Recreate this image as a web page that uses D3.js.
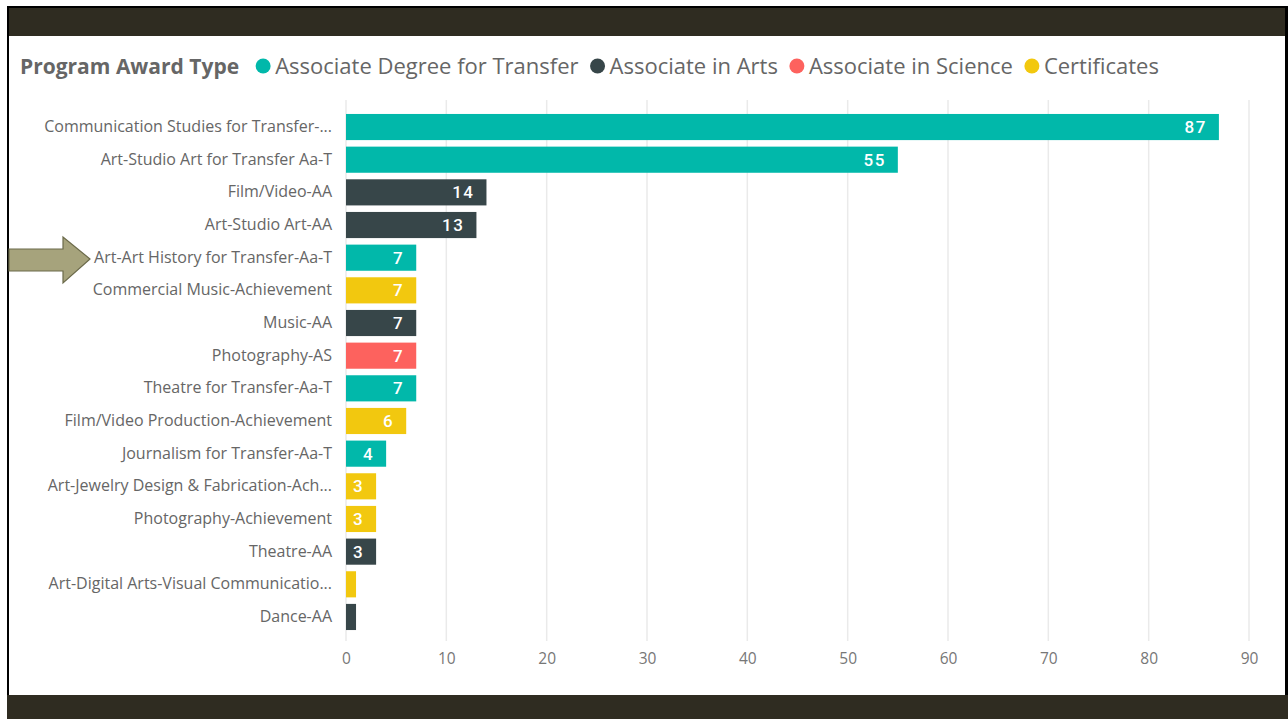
<!DOCTYPE html>
<html><head><meta charset="utf-8">
<script src="https://cdn.jsdelivr.net/npm/d3@7"></script>
<style>
html,body{margin:0;padding:0;background:#fff;}
svg{display:block;}
</style></head>
<body>
<svg id="c" width="1288" height="719"></svg>
<script>
const categories = [
  "Communication Studies for Transfer-...",
  "Art-Studio Art for Transfer Aa-T",
  "Film/Video-AA",
  "Art-Studio Art-AA",
  "Art-Art History for Transfer-Aa-T",
  "Commercial Music-Achievement",
  "Music-AA",
  "Photography-AS",
  "Theatre for Transfer-Aa-T",
  "Film/Video Production-Achievement",
  "Journalism for Transfer-Aa-T",
  "Art-Jewelry Design & Fabrication-Ach...",
  "Photography-Achievement",
  "Theatre-AA",
  "Art-Digital Arts-Visual Communicatio...",
  "Dance-AA"
];
const values = [87, 55, 14, 13, 7, 7, 7, 7, 7, 6, 4, 3, 3, 3, 1, 1];
const seriesOfBar = ["Associate Degree for Transfer","Associate Degree for Transfer","Associate in Arts","Associate in Arts",
  "Associate Degree for Transfer","Certificates","Associate in Arts","Associate in Science","Associate Degree for Transfer",
  "Certificates","Associate Degree for Transfer","Certificates","Certificates","Associate in Arts","Certificates","Associate in Arts"];
const seriesNames = ["Associate Degree for Transfer","Associate in Arts","Associate in Science","Certificates"];
const seriesColors = ["#01B8AA","#374649","#FD625E","#F2C80F"];
const xTicks = [0,10,20,30,40,50,60,70,80,90];
const legendTitle = "Program Award Type";

const svg = d3.select("#c");
const color = d3.scaleOrdinal().domain(seriesNames).range(seriesColors);

// frame
svg.append("rect").attr("x",7).attr("y",6).attr("width",1281).attr("height",713).attr("fill","#000");
svg.append("rect").attr("x",9).attr("y",8).attr("width",1276).attr("height",711).attr("fill","#fff");
svg.append("rect").attr("x",9).attr("y",8).attr("width",1276).attr("height",28).attr("fill","#2f2c21");
svg.append("rect").attr("x",7).attr("y",695).attr("width",1281).attr("height",24).attr("fill","#2f2c21");

const x = d3.scaleLinear().domain([0,90]).range([346,1249]);
const y = d3.scaleBand().domain(categories).range([110.7,633.3]).paddingInner(0.2).paddingOuter(0.1);

// gridlines
svg.append("g").selectAll("line").data(xTicks).join("line")
  .attr("x1",d=>x(d)).attr("x2",d=>x(d)).attr("y1",100).attr("y2",641)
  .attr("stroke","#eaeaea").attr("stroke-width",1.5);

// x axis labels
const xAxis = d3.axisBottom(x).tickValues(xTicks).tickSize(0).tickPadding(0);
const gx = svg.append("g").attr("transform","translate(0,653)").call(xAxis);
gx.select(".domain").remove();
gx.selectAll("text").attr("font-family","'Open Sans', sans-serif").attr("font-size",15.5).attr("fill","#777").attr("dy","0.71em");

// y axis labels
const yAxis = d3.axisLeft(y).tickSize(0).tickPadding(14);
const gy = svg.append("g").attr("transform","translate(346,0)").call(yAxis);
gy.select(".domain").remove();
gy.selectAll("text").attr("font-family","'Open Sans', sans-serif").attr("font-size",16).attr("fill","#666");

// bars
const data = categories.map((c,i)=>({c, v:values[i], s:seriesOfBar[i]}));
svg.append("g").selectAll("rect").data(data).join("rect")
  .attr("x",x(0)).attr("y",d=>y(d.c)).attr("width",d=>x(d.v)-x(0)).attr("height",y.bandwidth())
  .attr("fill",d=>color(d.s));

// value labels
svg.append("g").selectAll("text").data(data.filter(d=>d.v>1)).join("text")
  .attr("x",d=>x(d.v)-12).attr("y",d=>y(d.c)+y.bandwidth()/2).attr("dy","0.36em")
  .attr("text-anchor","end").attr("font-family","Roboto, sans-serif").attr("font-weight",500)
  .attr("font-size",17).attr("letter-spacing","1.5px").attr("fill","#fff").text(d=>d.v);

// legend
const lg = svg.append("g").attr("transform","translate(20,74)");
const t = lg.append("text").attr("x",0).attr("y",0).attr("font-family","'Open Sans', sans-serif")
  .attr("font-weight",700).attr("font-size",21).attr("fill","#666").text(legendTitle);
let cx = t.node().getComputedTextLength() + 24;
seriesNames.forEach((s,i)=>{
  lg.append("circle").attr("cx",cx).attr("cy",-8).attr("r",7.5).attr("fill",seriesColors[i]);
  const tt = lg.append("text").attr("x",cx+12).attr("y",0).attr("font-family","'Open Sans', sans-serif")
    .attr("font-size",22).attr("fill","#666").text(s);
  cx += 12 + tt.node().getComputedTextLength() + 19;
});

// arrow
const ap = [[9,249],[63,249],[63,237],[90,259],[63,283],[63,271],[9,271]];
svg.append("path").attr("d",d3.line()(ap)+"Z").attr("fill","#a6a37c").attr("stroke","#6b6a4a").attr("stroke-width",1.2);
</script>
</body></html>
